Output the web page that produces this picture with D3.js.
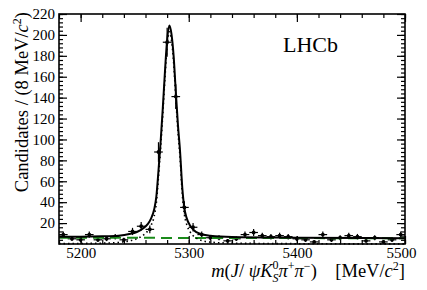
<!DOCTYPE html>
<html>
<head>
<meta charset="utf-8">
<script src="https://cdn.jsdelivr.net/npm/d3@7"></script>
</head>
<body style="margin:0; background:#fff">
<script>
// bin centres (8 MeV bins) and counts
const binCentres = [5184, 5192, 5200, 5208, 5216, 5224, 5232, 5240, 5248, 5256,
    5264, 5272, 5280, 5288, 5296, 5304, 5312, 5320, 5328, 5336,
    5344, 5352, 5360, 5368, 5376, 5384, 5392, 5400, 5408, 5416,
    5424, 5432, 5440, 5448, 5456, 5464, 5472, 5480, 5488, 5496];
const counts = [9, 5, 4, 9, 4, 5, 7, 4, 12, 17,
    14, 88, 193, 141, 35, 16, 9, 6, 6, 3,
    5, 9, 11, 8, 7, 8, 7, 5, 4, 2,
    9, 4, 6, 8, 7, 3, 6, 2, 4, 9];

// fit curves
const fitMass = [5180, 5200, 5220, 5235, 5245, 5252, 5258, 5262, 5265, 5268,
    5270, 5272, 5274, 5276, 5278, 5280, 5282, 5284, 5286, 5288,
    5290, 5292, 5294, 5296, 5298, 5301, 5305, 5310, 5320, 5340, 5400, 5500];
const fitTotal = [7, 7, 7.3, 8, 9.5, 11.5, 15, 19, 24, 33,
    45, 70, 98, 130, 165, 195, 209, 201, 180, 146,
    114, 88, 54, 34, 25, 18, 13, 10, 7.8, 6.6, 6, 5.5];
const fitSignal = [0.3, 0.5, 0.8, 1.5, 3, 5, 8.5, 12.5, 17.5, 26.5,
    39, 64, 92, 124, 159, 189, 203, 195, 174, 140,
    108, 82, 48, 28, 19, 12, 7, 4, 1.8, 0.8, 0.3, 0.1];
const bkgMass = [5180, 5500];
const bkgValue = [6, 5.5];

const xMajor = [5200, 5300, 5400, 5500];
const yMajor = [20, 40, 60, 80, 100, 120, 140, 160, 180, 200, 220];

const width = 427, height = 290;
const mLeft = 59, mRight = 405, mTop = 14, mBottom = 244;

const x = d3.scaleLinear().domain([5180, 5500]).range([mLeft, mRight]);
const y = d3.scaleLinear().domain([0, 220]).range([mBottom, mTop]);

const svg = d3.select("body").append("svg")
    .attr("width", width).attr("height", height);

// error bars + markers
const pts = binCentres.map((m, i) => ({ m, n: counts[i] }));
const g = svg.append("g").attr("stroke", "#000").attr("stroke-width", 1.2);
g.selectAll(".h").data(pts).enter().append("line")
    .attr("x1", d => x(d.m - 4)).attr("x2", d => x(d.m + 4))
    .attr("y1", d => y(d.n)).attr("y2", d => y(d.n));
g.selectAll(".v").data(pts).enter().append("line")
    .attr("x1", d => x(d.m)).attr("x2", d => x(d.m))
    .attr("y1", d => y(Math.max(0, d.n - Math.sqrt(d.n)))).attr("y2", d => y(d.n + Math.sqrt(d.n)));
svg.append("g").selectAll("circle").data(pts).enter().append("circle")
    .attr("cx", d => x(d.m)).attr("cy", d => y(d.n)).attr("r", 1.9).attr("fill", "#000");

// fit components
const line = d3.line().x(d => x(d[0])).y(d => y(d[1])).curve(d3.curveMonotoneX);
svg.append("path")
    .datum(bkgMass.map((m, i) => [m, bkgValue[i]]))
    .attr("d", line).attr("fill", "none")
    .attr("stroke", "#1a8a1a").attr("stroke-width", 2).attr("stroke-dasharray", "11,6");
svg.append("path")
    .datum(fitMass.map((m, i) => [m, fitSignal[i]]))
    .attr("d", line).attr("fill", "none")
    .attr("stroke", "#000").attr("stroke-width", 1.6).attr("stroke-dasharray", "1.5,3");
svg.append("path")
    .datum(fitMass.map((m, i) => [m, fitTotal[i]]))
    .attr("d", line).attr("fill", "none")
    .attr("stroke", "#000").attr("stroke-width", 2);

// axes, ticks inward on all sides
const xMinor = d3.range(5180, 5501, 20);
const yMinor = d3.range(4, 221, 4);
const drawAxis = (axis, tr) => svg.append("g").attr("transform", tr).call(axis)
    .call(s => s.select(".domain").remove());
drawAxis(d3.axisBottom(x).tickValues(xMinor).tickSize(-4).tickFormat(""), `translate(0,${mBottom})`);
drawAxis(d3.axisTop(x).tickValues(xMinor).tickSize(-4).tickFormat(""), `translate(0,${mTop})`);
drawAxis(d3.axisLeft(y).tickValues(yMinor).tickSize(-4).tickFormat(""), `translate(${mLeft},0)`);
drawAxis(d3.axisRight(y).tickValues(yMinor).tickSize(-4).tickFormat(""), `translate(${mRight},0)`);
const xb = drawAxis(d3.axisBottom(x).tickValues(xMajor).tickSize(-8).tickPadding(3).tickFormat(d3.format("d")), `translate(0,${mBottom})`);
drawAxis(d3.axisTop(x).tickValues(xMajor).tickSize(-8).tickFormat(""), `translate(0,${mTop})`);
drawAxis(d3.axisLeft(y).tickValues(yMajor).tickSize(-8).tickPadding(4).tickFormat(d3.format("d")), `translate(${mLeft},0)`);
drawAxis(d3.axisRight(y).tickValues(yMajor).tickSize(-8).tickFormat(""), `translate(${mRight},0)`);
svg.selectAll(".tick line").attr("stroke", "#000").attr("stroke-width", 1.2);
svg.selectAll(".tick text").style("font-size", "15px").attr("fill", "#000");
// last label pulled in a little, as in the original
xb.selectAll(".tick text").filter(d => d === 5500).attr("dx", -4);

svg.append("rect").attr("x", mLeft).attr("y", mTop)
    .attr("width", mRight - mLeft).attr("height", mBottom - mTop)
    .attr("fill", "none").attr("stroke", "#000").attr("stroke-width", 1.6);

// LHCb label
svg.append("text").attr("x", 283).attr("y", 52).style("font-size", "22px").text("LHCb");

// y title
const yt = svg.append("text").attr("transform", "translate(28,12) rotate(-90)")
    .attr("text-anchor", "end").style("font-size", "18.5px");
yt.append("tspan").text("Candidates / (8 MeV/");
yt.append("tspan").style("font-style", "italic").text("c");
yt.append("tspan").attr("dy", -7).style("font-size", "12px").text("2");
yt.append("tspan").attr("dy", 7).text(")");

// x title
const xt = svg.append("text").attr("x", 405).attr("y", 277)
    .attr("text-anchor", "end").style("font-size", "18.5px");
xt.append("tspan").style("font-style", "italic").text("m");
xt.append("tspan").text("(");
xt.append("tspan").style("font-style", "italic").text("J");
xt.append("tspan").text("/\u00a0");
xt.append("tspan").style("font-style", "italic").text("\u03c8K");
xt.append("tspan").attr("dy", -8).style("font-size", "12px").text("0");
xt.append("tspan").attr("dx", -6).attr("dy", 13).style("font-size", "12px").style("font-style", "italic").text("S");
xt.append("tspan").attr("dy", -5).style("font-style", "italic").text("\u03c0");
xt.append("tspan").attr("dy", -7).style("font-size", "12px").text("+");
xt.append("tspan").attr("dy", 7).style("font-style", "italic").text("\u03c0");
xt.append("tspan").attr("dy", -7).style("font-size", "12px").text("\u2212");
xt.append("tspan").attr("dy", 7).text(")\u00a0\u00a0\u00a0\u00a0[MeV/");
xt.append("tspan").style("font-style", "italic").text("c");
xt.append("tspan").attr("dy", -7).style("font-size", "12px").text("2");
xt.append("tspan").attr("dy", 7).text("]");

// serif everywhere (single family name)
svg.selectAll("text").style("font-family", '"Liberation Serif"');
svg.selectAll("g").attr("font-family", null);
</script>
</body>
</html>
